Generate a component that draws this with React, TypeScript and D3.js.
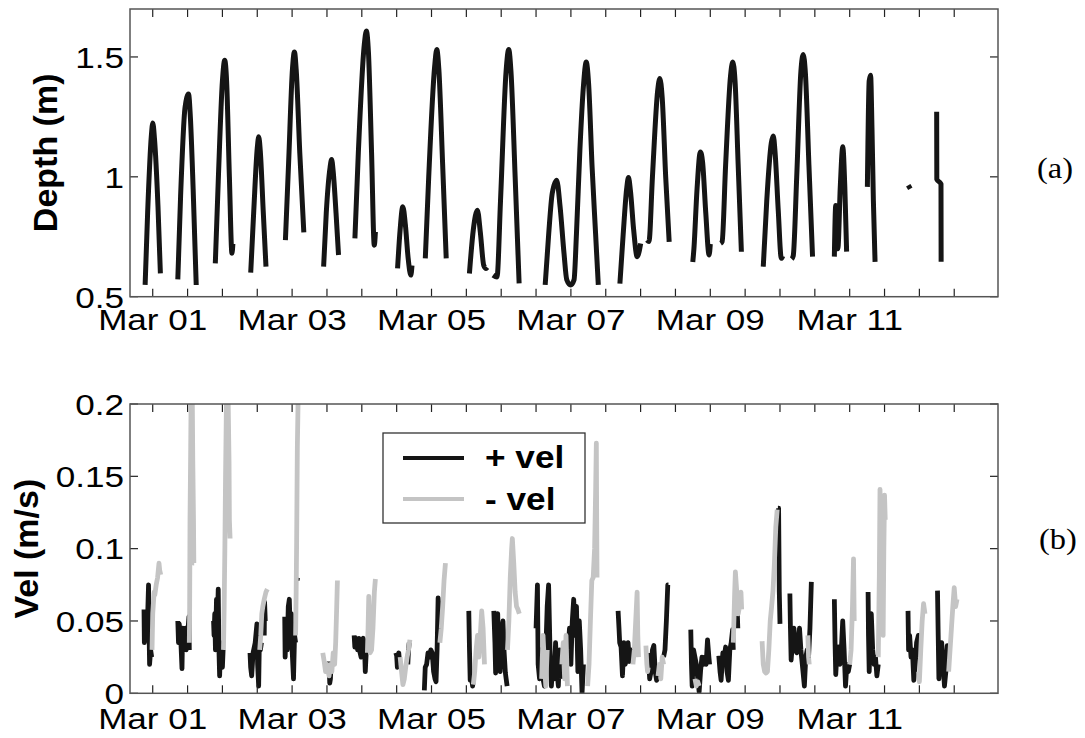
import React from "react";
import * as d3 from "d3";

type P = [number, number];

// ---------- axis / label data ----------
const depthTicks = [0.5, 1, 1.5];
const depthTickLabels = ["0.5", "1", "1.5"];
const velTicks = [0, 0.05, 0.1, 0.15, 0.2];
const velTickLabels = ["0", "0.05", "0.1", "0.15", "0.2"];
// days since Mar 01 00:00
const dayTicks = [0, 0.5, 1, 1.5, 2, 2.5, 3, 3.5, 4, 4.5, 5, 5.5, 6, 6.5, 7, 7.5, 8, 8.5, 9, 9.5, 10, 10.5, 11, 11.5];
const dateLabelDays = [0, 2, 4, 6, 8, 10];
const dateLabels = ["Mar 01", "Mar 03", "Mar 05", "Mar 07", "Mar 09", "Mar 11"];
const legendLabels = ["+ vel", "- vel"];

// ---------- depth (m): [day, depth] ----------
const depthSegments: P[][] = [
  [[-0.109, 0.549], [-0.073, 0.85], [-0.02, 1.17], [0.001, 1.225], [0.025, 1.16], [0.075, 0.88], [0.11, 0.597]],
  [[0.36, 0.572], [0.4, 0.92], [0.464, 1.29], [0.514, 1.345], [0.54, 1.25], [0.58, 0.95], [0.624, 0.549]],
  [[0.898, 0.639], [0.94, 0.98], [1.0, 1.4], [1.033, 1.486], [1.06, 1.4], [1.1, 1.0], [1.137, 0.681], [1.15, 0.72]],
  [[1.406, 0.6], [1.45, 0.86], [1.5, 1.12], [1.521, 1.167], [1.545, 1.1], [1.585, 0.86], [1.625, 0.625]],
  [[1.904, 0.736], [1.95, 1.06], [2.005, 1.45], [2.033, 1.521], [2.06, 1.44], [2.11, 1.1], [2.168, 0.768]],
  [[2.452, 0.625], [2.49, 0.85], [2.545, 1.04], [2.567, 1.072], [2.59, 1.02], [2.63, 0.85], [2.666, 0.674]],
  [[2.901, 0.743], [2.95, 1.1], [3.035, 1.55], [3.065, 1.608], [3.095, 1.52], [3.14, 1.1], [3.179, 0.715], [3.195, 0.77]],
  [[3.513, 0.618], [3.55, 0.78], [3.588, 0.875], [3.625, 0.8], [3.665, 0.66], [3.703, 0.59], [3.72, 0.63]],
  [[3.911, 0.66], [3.96, 1.0], [4.045, 1.46], [4.076, 1.531], [4.105, 1.45], [4.16, 1.05], [4.211, 0.66]],
  [[4.544, 0.597], [4.6, 0.78], [4.659, 0.861], [4.7, 0.77], [4.75, 0.63], [4.783, 0.618], [4.8, 0.622]],
  [[4.883, 0.59], [4.94, 0.582], [4.99, 0.9], [5.07, 1.44], [5.108, 1.531], [5.14, 1.44], [5.2, 1.0], [5.257, 0.556]],
  [[5.631, 0.549], [5.682, 0.764], [5.732, 0.931], [5.796, 0.986], [5.845, 0.875], [5.901, 0.681], [5.941, 0.57],
    [5.996, 0.549], [6.045, 0.57], [6.08, 0.764], [6.129, 1.111], [6.179, 1.375], [6.22, 1.479], [6.254, 1.389],
    [6.304, 1.042], [6.354, 0.764], [6.393, 0.549]],
  [[6.703, 0.555], [6.75, 0.76], [6.8, 0.95], [6.826, 0.997], [6.855, 0.94], [6.9, 0.78], [6.951, 0.667], [7.001, 0.722]],
  [[7.092, 0.736], [7.12, 0.73], [7.17, 1.0], [7.245, 1.36], [7.276, 1.41], [7.31, 1.33], [7.36, 1.0], [7.41, 0.729]],
  [[7.749, 0.645], [7.765, 0.7], [7.81, 0.95], [7.858, 1.104], [7.89, 1.06], [7.935, 0.85], [7.983, 0.674], [8.0, 0.72]],
  [[8.148, 0.722], [8.17, 0.73], [8.22, 1.05], [8.29, 1.42], [8.322, 1.479], [8.355, 1.4], [8.4, 1.05], [8.446, 0.688]],
  [[8.76, 0.625], [8.81, 0.9], [8.875, 1.14], [8.904, 1.17], [8.93, 1.1], [8.975, 0.86], [9.019, 0.66], [9.04, 0.67]],
  [[9.168, 0.657], [9.19, 0.67], [9.24, 1.0], [9.3, 1.44], [9.333, 1.51], [9.365, 1.43], [9.415, 1.05], [9.467, 0.667]],
  [[9.78, 0.667], [9.8, 0.88], [9.83, 0.7], [9.865, 0.958], [9.901, 1.125], [9.93, 0.958], [9.956, 0.688]],
  [[10.254, 0.958], [10.28, 1.4], [10.3, 1.424], [10.32, 1.2], [10.34, 0.9], [10.364, 0.645]],
  [[10.84, 0.965], [10.87, 0.95]],
  [[11.248, 1.271], [11.25, 0.99], [11.31, 0.97], [11.312, 0.646]],
];

// ---------- velocity magnitude (m/s): [day, vel] ----------
const velPositive: P[][] = [
  [[-0.125, 0.058], [-0.12, 0.035], [-0.1, 0.055], [-0.09, 0.04], [-0.075, 0.05], [-0.06, 0.075], [-0.05, 0.035], [-0.045, 0.02], [-0.03, 0.03], [-0.015, 0.025]],
  [[0.36, 0.05], [0.37, 0.035], [0.38, 0.048], [0.4, 0.04], [0.42, 0.017], [0.43, 0.045], [0.45, 0.03], [0.47, 0.045], [0.48, 0.03], [0.5, 0.04], [0.52, 0.053], [0.525, 0.03]],
  [[0.873, 0.05], [0.88, 0.04], [0.89, 0.055], [0.9, 0.03], [0.915, 0.065], [0.925, 0.045], [0.94, 0.072], [0.95, 0.03], [0.96, 0.012], [0.975, 0.035], [0.99, 0.025], [1.0, 0.018], [1.01, 0.03]],
  [[1.396, 0.028], [1.405, 0.018], [1.42, 0.012], [1.44, 0.028], [1.47, 0.035], [1.495, 0.048], [1.505, 0.02], [1.52, 0.005], [1.53, 0.035], [1.545, 0.03], [1.56, 0.035]],
  [[1.6, 0.04], [1.605, 0.063], [1.615, 0.05]],
  [[1.894, 0.053], [1.9, 0.025], [1.915, 0.045], [1.93, 0.03], [1.945, 0.06], [1.96, 0.065], [1.975, 0.04], [1.99, 0.055], [2.0, 0.03], [2.02, 0.01], [2.035, 0.04], [2.05, 0.035]],
  [[2.07, 0.078], [2.08, 0.08]],
  [[2.53, 0.022], [2.54, 0.007], [2.55, 0.01], [2.56, 0.022]],
  [[2.89, 0.04], [2.9, 0.032], [2.92, 0.038], [2.94, 0.03], [2.96, 0.038], [2.975, 0.028], [2.99, 0.025], [3.0, 0.035], [3.02, 0.038], [3.04, 0.03], [3.05, 0.015], [3.06, 0.025], [3.075, 0.038]],
  [[3.488, 0.028], [3.5, 0.026], [3.51, 0.018], [3.53, 0.028], [3.545, 0.02]],
  [[3.66, 0.02], [3.67, 0.03], [3.68, 0.035]],
  [[3.897, 0.002], [3.91, 0.018], [3.93, 0.02], [3.95, 0.028], [3.97, 0.025], [3.99, 0.03], [4.01, 0.028], [4.03, 0.015], [4.05, 0.01], [4.065, 0.008], [4.08, 0.03], [4.095, 0.066], [4.11, 0.06], [4.12, 0.04]],
  [[4.535, 0.057], [4.545, 0.03], [4.555, 0.009], [4.57, 0.012], [4.59, 0.005], [4.6, 0.01]],
  [[4.894, 0.057], [4.91, 0.035], [4.92, 0.014], [4.935, 0.04], [4.95, 0.055], [4.965, 0.02], [4.985, 0.015], [5.01, 0.045], [5.025, 0.05], [5.04, 0.03], [5.06, 0.014], [5.085, 0.005]],
  [[5.5, 0.045], [5.52, 0.075], [5.53, 0.02], [5.55, 0.01], [5.57, 0.03], [5.6, 0.01], [5.62, 0.005], [5.64, 0.03], [5.66, 0.06], [5.68, 0.075], [5.7, 0.03], [5.72, 0.005], [5.74, 0.02], [5.76, 0.01], [5.78, 0.035], [5.8, 0.015], [5.82, 0.005], [5.84, 0.03], [5.86, 0.01]],
  [[5.96, 0.03], [5.98, 0.045], [6.0, 0.02], [6.02, 0.05], [6.04, 0.065], [6.06, 0.04], [6.08, 0.06], [6.1, 0.015], [6.12, 0.05], [6.14, 0.03], [6.16, 0.0], [6.18, 0.02]],
  [[6.677, 0.057], [6.69, 0.045], [6.7, 0.035], [6.72, 0.032], [6.74, 0.012], [6.76, 0.035], [6.78, 0.02], [6.8, 0.03], [6.82, 0.035], [6.84, 0.022], [6.86, 0.03], [6.88, 0.025]],
  [[7.11, 0.028], [7.13, 0.01], [7.15, 0.015], [7.17, 0.03], [7.19, 0.033], [7.21, 0.015], [7.23, 0.009], [7.25, 0.015]],
  [[7.33, 0.025], [7.35, 0.03], [7.37, 0.05], [7.39, 0.075], [7.4, 0.075]],
  [[7.72, 0.044], [7.73, 0.02], [7.74, 0.005], [7.76, 0.03], [7.78, 0.025], [7.8, 0.02], [7.82, 0.01], [7.84, 0.001], [7.86, 0.015], [7.88, 0.025], [7.9, 0.02], [7.92, 0.025], [7.94, 0.02], [7.96, 0.037], [7.98, 0.025], [7.99, 0.02]],
  [[8.122, 0.026], [8.14, 0.015], [8.155, 0.009], [8.18, 0.028], [8.2, 0.025], [8.22, 0.032], [8.24, 0.015], [8.26, 0.009], [8.28, 0.03], [8.3, 0.035], [8.32, 0.044], [8.33, 0.03]],
  [[8.37, 0.05], [8.38, 0.067], [8.395, 0.045]],
  [[8.97, 0.128], [8.98, 0.128], [8.99, 0.07], [9.0, 0.048]],
  [[9.142, 0.069], [9.15, 0.045], [9.16, 0.023], [9.18, 0.035], [9.2, 0.045], [9.22, 0.03], [9.24, 0.028], [9.26, 0.035], [9.28, 0.045], [9.3, 0.03], [9.32, 0.02], [9.35, 0.005], [9.37, 0.025], [9.39, 0.03], [9.41, 0.025], [9.43, 0.045], [9.45, 0.077]],
  [[9.78, 0.065], [9.79, 0.035], [9.8, 0.013], [9.82, 0.03], [9.84, 0.032], [9.86, 0.02], [9.88, 0.03], [9.9, 0.05], [9.92, 0.03], [9.94, 0.005], [9.96, 0.02], [9.98, 0.015], [10.0, 0.02]],
  [[10.264, 0.07], [10.27, 0.04], [10.28, 0.015], [10.295, 0.04], [10.31, 0.055], [10.33, 0.03], [10.35, 0.02], [10.37, 0.025], [10.39, 0.012], [10.41, 0.02]],
  [[10.837, 0.057], [10.845, 0.03], [10.86, 0.04], [10.88, 0.025], [10.9, 0.03], [10.92, 0.009], [10.94, 0.02], [10.96, 0.035], [10.985, 0.04], [10.995, 0.025]],
  [[11.26, 0.071], [11.27, 0.04], [11.28, 0.01], [11.3, 0.03], [11.32, 0.035], [11.34, 0.02], [11.36, 0.005], [11.38, 0.015], [11.4, 0.033], [11.42, 0.02]],
];

const velNegative: P[][] = [
  [[-0.01, 0.03], [0.0, 0.055], [0.02, 0.07], [0.03, 0.068], [0.05, 0.075], [0.07, 0.08], [0.09, 0.09], [0.1, 0.085], [0.115, 0.082]],
  [[0.525, 0.035], [0.53, 0.06], [0.535, 0.12], [0.545, 0.17], [0.55, 0.2], [0.555, 0.24], [0.565, 0.22], [0.575, 0.16], [0.585, 0.12], [0.59, 0.09], [0.595, 0.09]],
  [[1.015, 0.03], [1.025, 0.06], [1.035, 0.1], [1.045, 0.15], [1.055, 0.19], [1.065, 0.23], [1.08, 0.21], [1.095, 0.16], [1.1, 0.12], [1.11, 0.107]],
  [[1.535, 0.03], [1.55, 0.04], [1.565, 0.055], [1.58, 0.06], [1.6, 0.065], [1.625, 0.07], [1.645, 0.072]],
  [[2.05, 0.04], [2.058, 0.07], [2.065, 0.105], [2.075, 0.17], [2.085, 0.2], [2.095, 0.24]],
  [[2.44, 0.028], [2.46, 0.022], [2.48, 0.015], [2.5, 0.02], [2.53, 0.012], [2.55, 0.02], [2.57, 0.015], [2.59, 0.028], [2.61, 0.02], [2.625, 0.035], [2.64, 0.06], [2.65, 0.078]],
  [[3.08, 0.028], [3.09, 0.045], [3.1, 0.067], [3.11, 0.05], [3.12, 0.028], [3.14, 0.03], [3.16, 0.045], [3.18, 0.07], [3.195, 0.079]],
  [[3.55, 0.025], [3.57, 0.015], [3.59, 0.006], [3.61, 0.01], [3.63, 0.018], [3.65, 0.025], [3.67, 0.03], [3.69, 0.037]],
  [[4.12, 0.035], [4.14, 0.045], [4.16, 0.06], [4.18, 0.078], [4.2, 0.09]],
  [[4.6, 0.006], [4.62, 0.015], [4.64, 0.03], [4.66, 0.04], [4.68, 0.025], [4.7, 0.04], [4.72, 0.057], [4.74, 0.045], [4.76, 0.02]],
  [[5.09, 0.03], [5.11, 0.05], [5.13, 0.08], [5.15, 0.1], [5.16, 0.107], [5.18, 0.09], [5.2, 0.07], [5.22, 0.06], [5.24, 0.058], [5.26, 0.055]],
  [[5.58, 0.01], [5.6, 0.04], [5.62, 0.02], [5.64, 0.005], [5.66, 0.03]],
  [[5.87, 0.02], [5.89, 0.035], [5.91, 0.01], [5.93, 0.04], [5.95, 0.005]],
  [[6.24, 0.005], [6.26, 0.02], [6.28, 0.05], [6.3, 0.078], [6.32, 0.08], [6.34, 0.1], [6.355, 0.14], [6.365, 0.173], [6.37, 0.12], [6.375, 0.08]],
  [[6.89, 0.02], [6.91, 0.03], [6.93, 0.05], [6.95, 0.07], [6.96, 0.04], [6.97, 0.025]],
  [[7.076, 0.033], [7.09, 0.02], [7.1, 0.015], [7.11, 0.018]],
  [[7.25, 0.012], [7.27, 0.02], [7.29, 0.01], [7.31, 0.025], [7.33, 0.02]],
  [[7.78, 0.01], [7.8, 0.005], [7.82, 0.008], [7.84, 0.005]],
  [[8.33, 0.035], [8.34, 0.052], [8.35, 0.07], [8.36, 0.084], [8.38, 0.07], [8.4, 0.055], [8.42, 0.06], [8.44, 0.07], [8.45, 0.058]],
  [[8.743, 0.036], [8.76, 0.02], [8.78, 0.015], [8.8, 0.014], [8.82, 0.015], [8.84, 0.03], [8.86, 0.05], [8.88, 0.06], [8.9, 0.071], [8.92, 0.09], [8.94, 0.115], [8.96, 0.127]],
  [[9.4, 0.04], [9.41, 0.025], [9.42, 0.02]],
  [[10.0, 0.02], [10.02, 0.03], [10.04, 0.06], [10.055, 0.093], [10.065, 0.05]],
  [[10.41, 0.025], [10.425, 0.08], [10.435, 0.141], [10.445, 0.11], [10.46, 0.1], [10.47, 0.06], [10.48, 0.04], [10.49, 0.1], [10.5, 0.137], [10.51, 0.12]],
  [[10.99, 0.015], [11.0, 0.008], [11.02, 0.03], [11.04, 0.05], [11.06, 0.062], [11.08, 0.055]],
  [[11.42, 0.015], [11.44, 0.03], [11.46, 0.045], [11.48, 0.06], [11.5, 0.073], [11.52, 0.06], [11.54, 0.065]],
];

// ---------- layout ----------
const W = 1085;
const H = 738;
const LEFT = 130;
const RIGHT = 998;
const TOP_A = 9;
const BOT_A = 296.7;
const TOP_B = 404;
const BOT_B = 693.3;
const TICK = 8;
const SX = 1.17;
const BLACK = "#151515";
const GRAY = "#c4c4c4";
const FRAME = "#555";
const SANS = "'Liberation Sans', Arial, Helvetica, sans-serif";
const SERIF = "'Liberation Serif', 'Times New Roman', serif";

const x = d3.scaleLinear().domain([-0.326, 12.128]).range([LEFT, RIGHT]);
const yDepth = d3.scaleLinear().domain([0.5, 1.7]).range([BOT_A, TOP_A]);
const yVel = d3.scaleLinear().domain([0, 0.2]).range([BOT_B, TOP_B]);

function HText(props: {
  x: number; y: number; anchor: string; size: number; weight?: string; family?: string; sx?: number; children: any;
}) {
  const sx = props.sx ?? SX;
  return (
    <text
      transform={`translate(${props.x},${props.y}) scale(${sx},1)`}
      textAnchor={props.anchor}
      fontSize={props.size}
      fontWeight={props.weight ?? "normal"}
      fontFamily={props.family ?? SANS}
      fill="#000"
    >
      {props.children}
    </text>
  );
}

function Frame(props: {
  top: number; bottom: number; y: d3.ScaleLinear<number, number>; yTicks: number[]; yLabels: string[];
  labelOffset: number;
}) {
  const { top, bottom, y, yTicks, yLabels, labelOffset } = props;
  return (
    <g>
      {dayTicks.map((d, i) => (
        <g key={"xt" + i}>
          <line x1={x(d)} x2={x(d)} y1={bottom} y2={bottom - TICK} stroke="#222" strokeWidth={1.2} />
          <line x1={x(d)} x2={x(d)} y1={top} y2={top + TICK} stroke="#222" strokeWidth={1.2} />
        </g>
      ))}
      {yTicks.map((v, i) => (
        <g key={"yt" + i}>
          <line x1={LEFT} x2={LEFT + TICK} y1={y(v)} y2={y(v)} stroke="#222" strokeWidth={1.2} />
          <line x1={RIGHT} x2={RIGHT - TICK} y1={y(v)} y2={y(v)} stroke="#222" strokeWidth={1.2} />
          <HText x={LEFT - 6} y={y(v) + 10.8} anchor="end" size={30}>
            {yLabels[i]}
          </HText>
        </g>
      ))}
      {dateLabelDays.map((d, i) => (
        <HText key={"xl" + i} x={x(d)} y={bottom + labelOffset} anchor="middle" size={30}>
          {dateLabels[i]}
        </HText>
      ))}
      <rect x={LEFT} y={top} width={RIGHT - LEFT} height={bottom - top} fill="none" stroke={FRAME} strokeWidth={1.5} />
    </g>
  );
}

export default function App() {
  const depthLine = d3
    .line<P>()
    .x((d) => x(d[0]))
    .y((d) => yDepth(d[1]))
    .curve(d3.curveMonotoneX);
  const velLine = d3
    .line<P>()
    .x((d) => x(d[0]))
    .y((d) => yVel(d[1]));

  const legX = 383;
  const legY = 433;
  const legW = 202;
  const legH = 90;

  return (
    <svg
      width={W}
      height={H}
      viewBox={`0 0 ${W} ${H}`}
      style={{ position: "absolute", left: 0, top: 0, background: "#fff" }}
    >
      <defs>
        <clipPath id="clipA">
          <rect x={LEFT} y={TOP_A} width={RIGHT - LEFT} height={BOT_A - TOP_A} />
        </clipPath>
        <clipPath id="clipB">
          <rect x={LEFT} y={TOP_B} width={RIGHT - LEFT} height={BOT_B - TOP_B} />
        </clipPath>
      </defs>
      <rect x={0} y={0} width={W} height={H} fill="#fff" />

      {/* Panel (a): depth */}
      <g clipPath="url(#clipA)">
        {depthSegments.map((seg, i) => (
          <path key={"d" + i} d={depthLine(seg) ?? ""} fill="none" stroke={BLACK} strokeWidth={5} strokeLinejoin="round" />
        ))}
      </g>
      <Frame top={TOP_A} bottom={BOT_A} y={yDepth} yTicks={depthTicks} yLabels={depthTickLabels} labelOffset={33} />
      <text
        transform={`translate(57,${(TOP_A + BOT_A) / 2}) rotate(-90)`}
        textAnchor="middle"
        fontSize={34}
        fontWeight="bold"
        fontFamily={SANS}
      >
        Depth (m)
      </text>
      <HText x={1037} y={178} anchor="start" size={29} family={SERIF} sx={1.12}>
        (a)
      </HText>

      {/* Panel (b): velocity */}
      <g clipPath="url(#clipB)">
        {velPositive.map((seg, i) => (
          <path key={"p" + i} d={velLine(seg) ?? ""} fill="none" stroke={BLACK} strokeWidth={4.8} strokeLinejoin="round" />
        ))}
        {velNegative.map((seg, i) => (
          <path key={"n" + i} d={velLine(seg) ?? ""} fill="none" stroke={GRAY} strokeWidth={4.8} strokeLinejoin="round" />
        ))}
      </g>
      <Frame top={TOP_B} bottom={BOT_B} y={yVel} yTicks={velTicks} yLabels={velTickLabels} labelOffset={36} />
      <text
        transform={`translate(38,${(TOP_B + BOT_B) / 2}) rotate(-90)`}
        textAnchor="middle"
        fontSize={34}
        fontWeight="bold"
        fontFamily={SANS}
      >
        Vel (m/s)
      </text>
      <HText x={1039} y={549} anchor="start" size={29} family={SERIF} sx={1.12}>
        (b)
      </HText>

      {/* Legend */}
      <g>
        <rect x={legX} y={legY} width={legW} height={legH} fill="#fff" stroke="#333" strokeWidth={1.3} />
        <line x1={legX + 20} x2={legX + 81} y1={legY + 25} y2={legY + 25} stroke={BLACK} strokeWidth={4} />
        <line x1={legX + 20} x2={legX + 81} y1={legY + 66} y2={legY + 66} stroke={GRAY} strokeWidth={4} />
        <HText x={legX + 102} y={legY + 35} anchor="start" size={32} weight="bold" sx={1.1}>
          {legendLabels[0]}
        </HText>
        <HText x={legX + 102} y={legY + 77} anchor="start" size={32} weight="bold" sx={1.1}>
          {legendLabels[1]}
        </HText>
      </g>
    </svg>
  );
}
